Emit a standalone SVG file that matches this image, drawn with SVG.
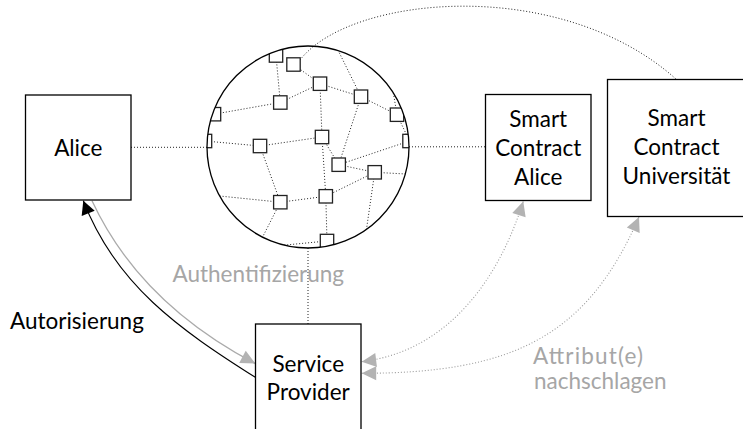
<svg xmlns="http://www.w3.org/2000/svg" width="743" height="429" viewBox="0 0 743 429">
  <style>
    .box { fill: #fff; stroke: #000; stroke-width: 1.3; }
    .lbl { font-family: Lato, "Liberation Sans", sans-serif; font-size: 22.5px; fill: #000; }
    .glbl { font-family: Lato, "Liberation Sans", sans-serif; font-size: 22.5px; fill: #a6a6a6; }
    .mid { text-anchor: middle; }
    .dot { fill: none; stroke: #222; stroke-width: 1; stroke-dasharray: 1 2; }
    .gdot { fill: none; stroke: #9a9a9a; stroke-width: 1.1; stroke-dasharray: 1 2; }
    .peer { fill: #fff; stroke: #222; stroke-width: 1.3; }
  </style>
  <defs>
    <marker id="headK" viewBox="-15 -8 16 16" refX="0" refY="0" markerWidth="16" markerHeight="16" markerUnits="userSpaceOnUse" orient="auto">
      <path d="M0,0 L-13.5,-7 L-13.5,7 Z" fill="#000"/>
    </marker>
    <marker id="headG" viewBox="-16 -8 17 16" refX="0" refY="0" markerWidth="17" markerHeight="16" markerUnits="userSpaceOnUse" orient="auto-start-reverse">
      <path d="M0,0 L-14.5,-7 L-14.5,7 Z" fill="#b3b3b3"/>
    </marker>
    <clipPath id="globeClip">
      <circle cx="308" cy="147" r="101"/>
    </clipPath>
  </defs>

  <!-- connectors -->
  <g id="connectors">
    <path class="dot" d="M131,147.3 L207,147.3"/>
    <path class="dot" d="M409,146.8 L485.5,146.8"/>
    <path class="dot" d="M308,248 L308,324"/>
    <path class="dot" d="M300,60 C350,-5 560,-25 676.5,79.5"/>
    <!-- Autorisierung: service provider back to Alice -->
    <path d="M255.3,377.3 C179,329 116,285 83.3,200.8" fill="none" stroke="#000" stroke-width="1.1" marker-end="url(#headK)"/>
    <!-- Authentifizierung: Alice to service provider -->
    <path d="M92,200.8 C125.6,273 184.6,326.4 255.3,363.6" fill="none" stroke="#aaaaaa" stroke-width="1.3" marker-end="url(#headG)"/>
    <!-- attribute lookups -->
    <path class="gdot" d="M361.7,361.7 C445.9,351.5 497.8,282.5 523.3,201.2" marker-start="url(#headG)" marker-end="url(#headG)"/>
    <path class="gdot" d="M361.7,373.3 C511.7,373.3 587,337.1 639,217" marker-start="url(#headG)" marker-end="url(#headG)"/>
  </g>

  <!-- blockchain network -->
  <g id="blockchain">
    <g clip-path="url(#globeClip)">
      <path class="dot" d="M276,55.5 L280.3,102.5 M293.5,64.5 L320,83.7 M320,83.7 L361,96.7 M320,83.7 L280.3,102.5 M320,83.7 L322,137 M361,96.7 L333,40 M361,96.7 L397,114.7 M361,96.7 L338.7,164.7 M397,114.7 L409.5,141 M397,114.7 L392,85 M214,114.2 L280.3,102.5 M205,141 L260,146 M260,146 L322,137 M260,146 L280.3,202.2 M322,137 L338.7,164.7 M322,137 L325.8,196.3 M409.5,141 L338.7,164.7 M338.7,164.7 L374.7,172.3 M374.7,172.3 L415,174.5 M374.7,172.3 L325.8,196.3 M374.7,172.3 L363.5,250 M280.3,202.2 L325.8,196.3 M280.3,202.2 L200,194 M280.3,202.2 L256,250 M325.8,196.3 L327,241 M327,241 L265,247"/>
      <rect class="peer" x="269.3" y="48.8" width="13.4" height="13.4"/>
      <rect class="peer" x="286.8" y="57.8" width="13.4" height="13.4"/>
      <rect class="peer" x="313.3" y="77" width="13.4" height="13.4"/>
      <rect class="peer" x="354.3" y="90" width="13.4" height="13.4"/>
      <rect class="peer" x="390.3" y="108" width="13.4" height="13.4"/>
      <rect class="peer" x="273.6" y="95.8" width="13.4" height="13.4"/>
      <rect class="peer" x="207.3" y="107.5" width="13.4" height="13.4"/>
      <rect class="peer" x="198.3" y="134.3" width="13.4" height="13.4"/>
      <rect class="peer" x="253.3" y="139.3" width="13.4" height="13.4"/>
      <rect class="peer" x="315.3" y="130.3" width="13.4" height="13.4"/>
      <rect class="peer" x="402.8" y="134.3" width="13.4" height="13.4"/>
      <rect class="peer" x="332" y="158" width="13.4" height="13.4"/>
      <rect class="peer" x="368" y="165.6" width="13.4" height="13.4"/>
      <rect class="peer" x="273.6" y="195.5" width="13.4" height="13.4"/>
      <rect class="peer" x="319.1" y="189.6" width="13.4" height="13.4"/>
      <rect class="peer" x="320.3" y="234.3" width="13.4" height="13.4"/>
    </g>
    <circle cx="308" cy="147" r="101" fill="none" stroke="#000" stroke-width="1.3"/>
  </g>

  <g id="alice">
    <rect class="box" x="25.5" y="95" width="105.5" height="105"/>
    <text class="lbl mid" x="78.3" y="156">Alice</text>
  </g>

  <g id="sc-alice">
    <rect class="box" x="485.5" y="94.5" width="105.5" height="106"/>
    <text class="lbl mid" x="538.2" y="127">Smart</text>
    <text class="lbl mid" x="538.2" y="156">Contract</text>
    <text class="lbl mid" x="538.2" y="184.5">Alice</text>
  </g>

  <g id="sc-uni">
    <rect class="box" x="607.5" y="79.5" width="137" height="137"/>
    <text class="lbl mid" x="676.5" y="126">Smart</text>
    <text class="lbl mid" x="676.5" y="155">Contract</text>
    <text class="lbl mid" x="676.5" y="183.5">Universität</text>
  </g>

  <g id="service-provider">
    <rect class="box" x="255.5" y="324" width="105.5" height="112"/>
    <text class="lbl mid" x="308.2" y="371.5">Service</text>
    <text class="lbl mid" x="308.2" y="400">Provider</text>
  </g>

  <g id="labels">
    <text class="lbl" x="10" y="329">Autorisierung</text>
    <text class="glbl" x="172.5" y="281.5">Authentifizierung</text>
    <text class="glbl" x="533" y="363.5" textLength="110" lengthAdjust="spacing">Attribut(e)</text>
    <text class="glbl" x="534" y="389">nachschlagen</text>
  </g>
</svg>
